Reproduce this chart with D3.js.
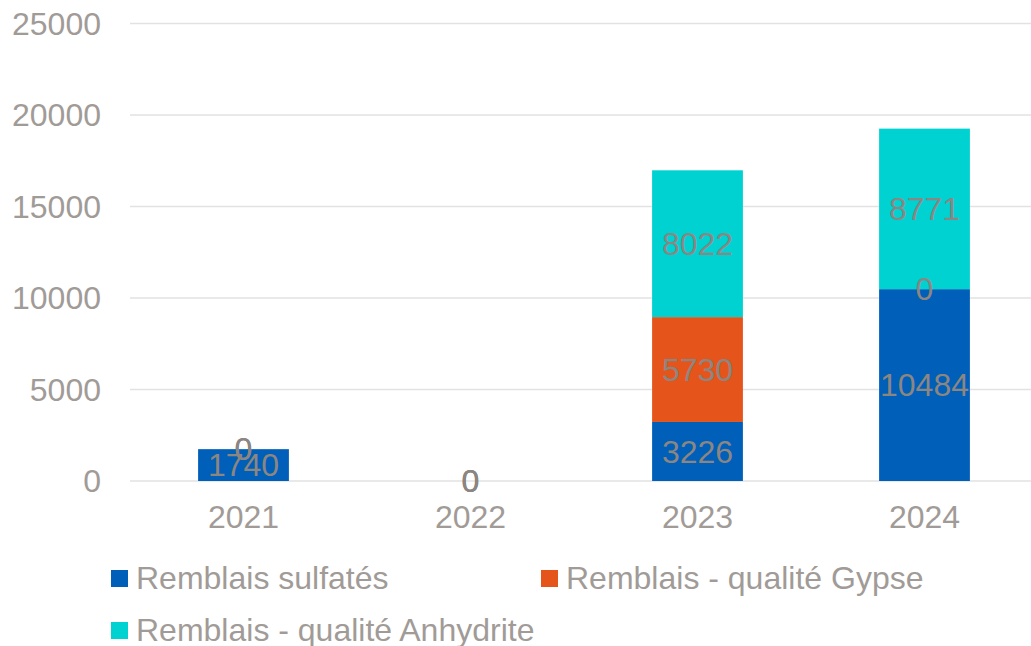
<!DOCTYPE html>
<html lang="fr">
<head>
<meta charset="UTF-8">
<title>Remblais</title>
<script src="https://cdn.jsdelivr.net/npm/d3@7"></script>
<style>
  body { margin: 0; background: #fff; }
  text { font-family: "Liberation Sans", Arial, sans-serif; }
</style>
</head>
<body>
<svg id="chart" width="1031" height="646"></svg>
<script>
// data
const years = ["2021", "2022", "2023", "2024"];
const seriesNames = ["Remblais sulfatés", "Remblais - qualité Gypse", "Remblais - qualité Anhydrite"];
const sulfates = [1740, 0, 3226, 10484];
const gypse = [0, 0, 5730, 0];
const anhydrite = [0, 0, 8022, 8771];
const yTicks = [0, 5000, 10000, 15000, 20000, 25000];
const colors = ["#005fb8", "#e4541b", "#00d2d2"];

const svg = d3.select("#chart");
const fontSize = 32;

const x = d3.scaleBand().domain(years).range([130, 1038]);
const y = d3.scaleLinear().domain([0, 25000]).range([481, 23.5]);
const barW = x.bandwidth() * 0.4;

// gridlines
svg.append("g").selectAll("line").data(yTicks).join("line")
  .attr("x1", 130).attr("x2", 1031)
  .attr("y1", d => y(d)).attr("y2", d => y(d))
  .attr("stroke", "#e2e2e2").attr("stroke-width", 1.5);

// y labels
svg.append("g").selectAll("text").data(yTicks).join("text")
  .attr("x", 101).attr("y", d => y(d)).attr("dy", "0.35em")
  .attr("text-anchor", "end").attr("font-size", fontSize).attr("fill", "#a19b97")
  .text(d => d);

// x labels
svg.append("g").selectAll("text").data(years).join("text")
  .attr("x", d => x(d) + x.bandwidth() / 2).attr("y", 528)
  .attr("text-anchor", "middle").attr("font-size", fontSize).attr("fill", "#a19b97")
  .text(d => d);

// stack
const rows = years.map((yr, i) => ({ year: yr, s0: sulfates[i], s1: gypse[i], s2: anhydrite[i] }));
const stack = d3.stack().keys(["s0", "s1", "s2"])(rows);

const layers = svg.append("g").selectAll("g").data(stack).join("g")
  .attr("fill", (d, i) => colors[i]);
layers.selectAll("rect").data(d => d).join("rect")
  .attr("x", d => x(d.data.year) + (x.bandwidth() - barW) / 2)
  .attr("width", barW)
  .attr("y", d => y(d[1]))
  .attr("height", d => y(d[0]) - y(d[1]));

// data labels
const labels = svg.append("g");
stack.forEach(layer => {
  labels.selectAll(null).data(layer).join("text")
    .attr("x", d => x(d.data.year) + x.bandwidth() / 2)
    .attr("y", d => (y(d[0]) + y(d[1])) / 2)
    .attr("dy", "0.35em")
    .attr("text-anchor", "middle").attr("font-size", fontSize).attr("fill", "#8c8682")
    .text(d => d[1] - d[0]);
});

// legend
const legend = svg.append("g").selectAll("g").data(seriesNames).join("g")
  .attr("transform", (d, i) => `translate(${111 + (i % 2) * 430},${570 + Math.floor(i / 2) * 52})`);
legend.append("rect").attr("width", 17).attr("height", 17).attr("fill", (d, i) => colors[i]);
legend.append("text").attr("x", 25).attr("y", 8).attr("dy", "0.35em")
  .attr("font-size", fontSize).attr("fill", "#a19b97").text(d => d);
</script>
</body>
</html>
